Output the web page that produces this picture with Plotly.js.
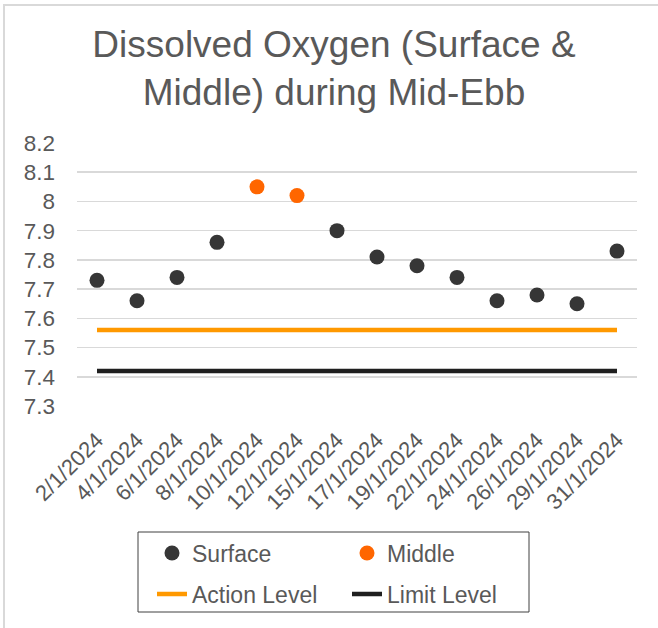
<!DOCTYPE html>
<html><head><meta charset="utf-8">
<script src="https://cdn.plot.ly/plotly-3.0.1.min.js"></script>
<style>html,body{margin:0;padding:0;background:#fff}#chart{width:658px;height:628px}</style>
</head><body><div id="chart"></div>
<script>
const dates = ["2/1/2024","4/1/2024","6/1/2024","8/1/2024","10/1/2024","12/1/2024","15/1/2024","17/1/2024","19/1/2024","22/1/2024","24/1/2024","26/1/2024","29/1/2024","31/1/2024"];
const surface = [7.73,7.66,7.74,7.86,null,null,7.90,7.81,7.78,7.74,7.66,7.68,7.65,7.83];
const middle = [null,null,null,null,8.05,8.02,null,null,null,null,null,null,null,null];
const actionLevel = [7.56,7.56,7.56,7.56,7.56,7.56,7.56,7.56,7.56,7.56,7.56,7.56,7.56,7.56];
const limitLevel = [7.42,7.42,7.42,7.42,7.42,7.42,7.42,7.42,7.42,7.42,7.42,7.42,7.42,7.42];
const yTickVals = [7.3,7.4,7.5,7.6,7.7,7.8,7.9,8.0,8.1,8.2];
const yTickText = ["7.3","7.4","7.5","7.6","7.7","7.8","7.9","8","8.1","8.2"];

const FONT = "Liberation Sans, Arial, sans-serif";
const GRAY = "#595959";

const traces = [
  {x: dates, y: actionLevel, name: "Action Level", type: "scatter", mode: "lines",
   line: {color: "#FF9900", width: 4.5}, legend: "legend2"},
  {x: dates, y: limitLevel, name: "Limit Level", type: "scatter", mode: "lines",
   line: {color: "#1F1F1F", width: 4.5}, legend: "legend2"},
  {x: dates, y: surface, name: "Surface", type: "scatter", mode: "markers",
   marker: {color: "#363636", size: 15}, legend: "legend"},
  {x: dates, y: middle, name: "Middle", type: "scatter", mode: "markers",
   marker: {color: "#FF6600", size: 15}, legend: "legend"}
];

const W = 658, H = 628, L = 77, R = 21, T = 143, B = 222;
const pw = W - L - R, ph = H - T - B;
const px = v => (v - L) / pw;
const py = v => (H - B - v) / ph;

const layout = {
  width: W, height: H,
  margin: {l: L, r: R, t: T, b: B, autoexpand: false},
  paper_bgcolor: "#fff", plot_bgcolor: "#fff",
  font: {family: FONT, color: GRAY},
  title: {text: "Dissolved Oxygen (Surface &<br>Middle) during Mid-Ebb",
    font: {family: FONT, size: 37, color: GRAY},
    xref: "container", x: 334/658, xanchor: "center",
    yref: "container", y: 1 - 57/628, yanchor: "top"},
  xaxis: {type: "category", range: [-0.5, 13.5], showgrid: false, zeroline: false,
    showline: false, ticks: "", tickangle: -45, ticklabelstandoff: 16,
    tickfont: {family: FONT, size: 22, color: GRAY}},
  yaxis: {range: [7.3, 8.2], tickmode: "array", tickvals: yTickVals, ticktext: yTickText,
    showgrid: true, gridcolor: "#D9D9D9", gridwidth: 1.5, zeroline: false, showline: false,
    ticks: "", tickfont: {family: FONT, size: 22.5, color: GRAY}, ticklabelstandoff: 21},
  showlegend: true,
  legend: {orientation: "h", x: px(152), xanchor: "left", y: py(553), yanchor: "middle",
    entrywidth: 150, font: {family: FONT, size: 23, color: GRAY}, bgcolor: "rgba(0,0,0,0)",
    borderwidth: 0, traceorder: "normal"},
  legend2: {orientation: "h", x: px(152), xanchor: "left", y: py(594), yanchor: "middle",
    entrywidth: 150, font: {family: FONT, size: 23, color: GRAY}, bgcolor: "rgba(0,0,0,0)",
    borderwidth: 0, traceorder: "normal"},
  shapes: [
    {type: "rect", xref: "paper", yref: "paper", x0: px(138), x1: px(529), y0: py(612), y1: py(532),
     line: {color: "#404040", width: 1}, fillcolor: "rgba(0,0,0,0)", layer: "below"},
    {type: "rect", xref: "paper", yref: "paper", x0: px(4), x1: px(664), y0: py(634), y1: py(5),
     line: {color: "#D9D9D9", width: 2}, fillcolor: "rgba(0,0,0,0)", layer: "below"}
  ]
};

Plotly.newPlot("chart", traces, layout, {displayModeBar: false, staticPlot: true});
</script>
</body></html>
